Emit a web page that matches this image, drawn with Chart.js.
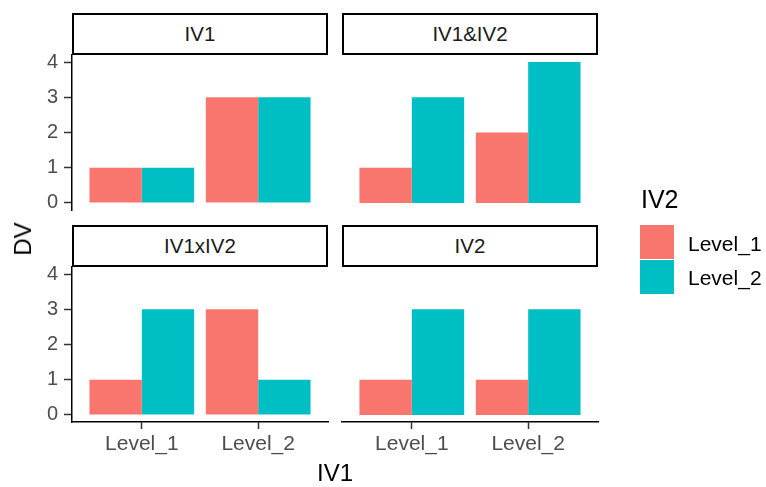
<!DOCTYPE html>
<html>
<head>
<meta charset="utf-8">
<script src="https://cdn.jsdelivr.net/npm/chart.js@4/dist/chart.umd.min.js"></script>
<style>
  body { margin: 0; background: #fff; font-family: "Liberation Sans", Arial, sans-serif; }
  #wrap { position: relative; width: 766px; height: 487px; overflow: hidden; }
  canvas { position: absolute; left: 0; top: 0; }
  .strip { position: absolute; box-sizing: border-box; border: 2.5px solid #000; background: #fff;
           font-size: 20.5px; line-height: 1; color: #1a1a1a; display: flex; align-items: center; justify-content: center; }
  .lbl { position: absolute; white-space: nowrap; line-height: 1; }
</style>
</head>
<body>
<div id="wrap"></div>
<script>
// facet panels and values
var panels = ['IV1', 'IV1&IV2', 'IV1xIV2', 'IV2'];
var categories = ['Level_1', 'Level_2'];
var seriesNames = ['Level_1', 'Level_2'];
var level1Values = [[1, 3], [1, 2], [1, 3], [1, 1]];
var level2Values = [[1, 3], [3, 4], [3, 1], [3, 3]];
var yTicks = [0, 1, 2, 3, 4];
var colors = ['#F8766D', '#00BFC4'];

// panel plot areas (left, top, right, bottom)
var boxes = [
  [72, 55, 328, 210],
  [342, 55, 598, 210],
  [72, 267, 328, 422],
  [342, 267, 598, 422]
];
var W = 766, H = 487;
var font = '"Liberation Sans", Arial, sans-serif';
var wrap = document.getElementById('wrap');

// label placed by its centre (or left edge + vertical centre)
function addLabel(text, x, y, size, color, anchor, rotate) {
  var d = document.createElement('div');
  d.className = 'lbl';
  d.textContent = text;
  d.style.left = x + 'px';
  d.style.top = y + 'px';
  d.style.fontSize = size + 'px';
  d.style.color = color;
  var tx = anchor === 'left' ? '0' : '-50%';
  d.style.transform = 'translate(' + tx + ',-50%)' + (rotate ? ' rotate(' + rotate + 'deg)' : '');
  wrap.appendChild(d);
  return d;
}

panels.forEach(function (name, i) {
  var b = boxes[i];
  var leftCol = (i % 2 === 0), bottomRow = (i >= 2);
  var cv = document.createElement('canvas');
  cv.width = W; cv.height = H;
  wrap.appendChild(cv);

  var yW = 50, xH = 40;
  new Chart(cv.getContext('2d'), {
    type: 'bar',
    data: {
      datasets: [
        { label: seriesNames[0], data: level1Values[i].map(function (v, k) { return { x: k + 1, y: v }; }), backgroundColor: colors[0] },
        { label: seriesNames[1], data: level2Values[i].map(function (v, k) { return { x: k + 1, y: v }; }), backgroundColor: colors[1] }
      ]
    },
    options: {
      responsive: false,
      animation: false,
      devicePixelRatio: 1,
      events: [],
      layout: {
        padding: {
          left: b[0] - (leftCol ? yW : 0),
          top: b[1],
          right: W - b[2],
          bottom: H - b[3] - (bottomRow ? xH : 0)
        }
      },
      datasets: { bar: { categoryPercentage: 0.9, barPercentage: 1, borderWidth: 0 } },
      plugins: { legend: { display: false }, tooltip: { enabled: false } },
      scales: {
        x: {
          type: 'linear',
          display: bottomRow,
          offset: false,
          min: 0.4, max: 2.6,
          afterBuildTicks: function (axis) { axis.ticks = categories.map(function (c, k) { return { value: k + 1 }; }); },
          afterFit: function (axis) { if (bottomRow) axis.height = xH; },
          grid: { offset: false, drawOnChartArea: false, drawTicks: true, tickLength: 7, tickColor: '#333333', tickWidth: 1.5 },
          border: { display: true, color: '#000', width: 1.5 },
          ticks: {
            padding: 3,
            color: '#4D4D4D',
            maxRotation: 0,
            autoSkip: false,
            font: { family: font, size: 21 },
            callback: function (v) { return categories[v - 1]; }
          }
        },
        y: {
          display: leftCol,
          min: -0.2, max: 4.2,
          afterBuildTicks: function (axis) { axis.ticks = yTicks.map(function (v) { return { value: v }; }); },
          afterFit: function (axis) { if (leftCol) axis.width = yW; },
          grid: { offset: false, drawOnChartArea: false, drawTicks: true, tickLength: 8, tickColor: '#333333', tickWidth: 1.5 },
          border: { display: true, color: '#000', width: 1.5 },
          ticks: {
            padding: 6,
            color: '#4D4D4D',
            font: { family: font, size: 20 }
          }
        }
      }
    }
  });

  var s = document.createElement('div');
  s.className = 'strip';
  s.textContent = name;
  s.style.left = b[0] + 'px';
  s.style.top = (b[1] - 42) + 'px';
  s.style.width = (b[2] - b[0]) + 'px';
  s.style.height = '42px';
  wrap.appendChild(s);
});

// axis titles
addLabel('IV1', 335, 473, 24, '#000');
addLabel('DV', 23, 239, 24, '#000', 'center', -90);

// legend
addLabel('IV2', 641, 199, 25, '#000', 'left');
seriesNames.forEach(function (n, k) {
  var key = document.createElement('div');
  key.style.position = 'absolute';
  key.style.left = '640px';
  key.style.top = (225 + k * 34.5) + 'px';
  key.style.width = '34px';
  key.style.height = '34px';
  key.style.background = colors[k];
  wrap.appendChild(key);
  addLabel(n, 688, 242.5 + k * 34.5, 21, '#000', 'left');
});
</script>
</body>
</html>
